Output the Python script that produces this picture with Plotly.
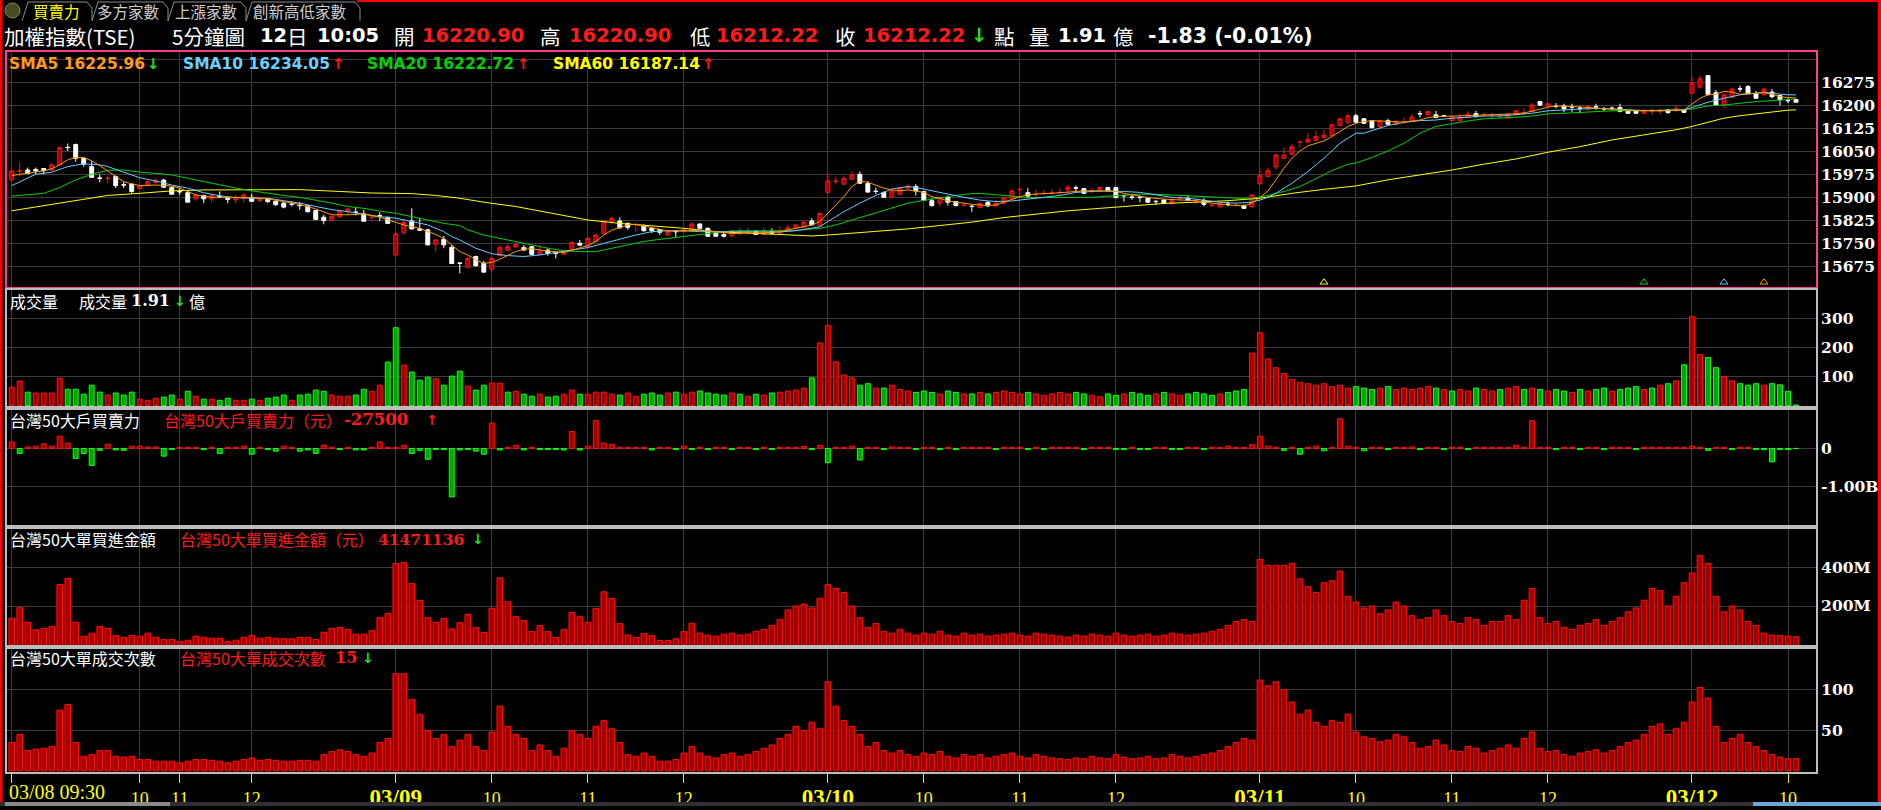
import plotly.graph_objects as go

W, H = 1881, 810
def X(px): return px / W
def Y(py): return 1 - py / H

N = 224
idx = list(range(N))

# ---------------- candles (5-min bars, 03/08 09:30 -> 03/12 10:05) ----------------
opens = [15959,15987,15991,15993,15996,15991,16008,16065,16074,16029,
 16002,15965,15963,15970,15943,15945,15931,15942,15950,15958,
 15934,15921,15917,15897,15908,15897,15905,15901,15894,15899,
 15902,15891,15898,15889,15883,15880,15876,15874,15859,15837,
 15827,15839,15855,15854,15848,15836,15842,15837,15714,15787,
 15825,15799,15796,15749,15765,15739,15688,15674,15709,15687,
 15668,15712,15729,15740,15738,15741,15716,15730,15723,15716,
 15729,15752,15741,15758,15785,15823,15825,15817,15813,15808,
 15801,15797,15779,15791,15790,15793,15815,15801,15788,15781,
 15776,15783,15789,15790,15781,15790,15785,15793,15801,15804,
 15825,15809,15918,15954,15945,15961,15977,15947,15922,15918,
 15902,15912,15932,15937,15921,15891,15883,15902,15888,15875,
 15873,15869,15886,15874,15883,15899,15927,15917,15911,15914,
 15916,15917,15926,15933,15930,15922,15924,15934,15934,15908,
 15903,15903,15899,15889,15893,15883,15898,15899,15890,15892,
 15875,15871,15880,15875,15875,15871,15946,15970,16001,16029,
 16042,16081,16082,16088,16097,16103,16136,16147,16168,16158,
 16152,16133,16152,16140,16148,16149,16175,16171,16171,16168,
 16152,16152,16163,16175,16170,16170,16168,16160,16171,16176,
 16182,16214,16200,16199,16200,16197,16193,16190,16197,16191,
 16193,16195,16184,16184,16176,16181,16183,16187,16185,16186,
 16241,16261,16299,16243,16203,16228,16256,16263,16240,16236,
 16245,16234,16218,16220.90]
highs = [15990,16018,15999,15999,15997,16013,16066,16077,16077,16032,
 16021,15977,15973,15972,15953,15945,15942,15958,15964,15962,
 15937,15932,15921,15915,15910,15915,15921,15903,15910,15915,
 15913,15902,15899,15891,15886,15888,15886,15875,15861,15845,
 15842,15861,15866,15868,15861,15845,15853,15839,15790,15828,
 15866,15834,15799,15766,15776,15747,15688,15709,15712,15695,
 15706,15747,15749,15755,15747,15743,15747,15734,15725,15727,
 15758,15763,15771,15783,15828,15839,15836,15820,15814,15814,
 15804,15799,15792,15791,15799,15820,15817,15804,15790,15790,
 15796,15803,15803,15796,15803,15801,15806,15812,15814,15825,
 15834,15852,15980,15970,15973,15986,15986,15955,15934,15921,
 15929,15937,15945,15945,15923,15899,15904,15908,15890,15888,
 15877,15886,15888,15893,15903,15928,15932,15932,15926,15926,
 15928,15932,15942,15940,15932,15932,15936,15937,15937,15908,
 15910,15907,15901,15893,15896,15899,15908,15908,15899,15899,
 15883,15885,15888,15883,15879,15912,15999,15999,16045,16064,
 16077,16088,16111,16120,16122,16143,16162,16174,16174,16160,
 16154,16153,16158,16154,16162,16174,16184,16184,16184,16171,
 16168,16174,16182,16184,16178,16178,16176,16176,16186,16192,
 16209,16217,16209,16209,16207,16207,16200,16203,16207,16197,
 16198,16207,16186,16186,16190,16192,16192,16190,16203,16190,
 16295,16299,16299,16252,16241,16258,16266,16268,16249,16258,
 16255,16236,16225,16220.90]
lows = [15957,15970,15977,15977,15977,15988,16006,16053,16018,16002,
 15966,15951,15948,15932,15932,15913,15928,15939,15945,15932,
 15912,15910,15886,15891,15883,15886,15899,15883,15883,15886,
 15889,15886,15883,15873,15866,15872,15861,15853,15828,15814,
 15825,15834,15845,15843,15823,15825,15825,15817,15712,15779,
 15797,15793,15745,15725,15736,15686,15654,15671,15676,15658,
 15658,15710,15727,15736,15727,15714,15714,15712,15703,15714,
 15727,15745,15738,15755,15781,15814,15799,15796,15790,15790,
 15785,15779,15777,15772,15788,15790,15799,15774,15773,15771,
 15772,15780,15781,15779,15779,15781,15784,15790,15799,15801,
 15810,15806,15916,15944,15942,15959,15946,15917,15912,15901,
 15901,15910,15929,15908,15891,15872,15872,15875,15872,15872,
 15855,15866,15870,15872,15879,15897,15899,15899,15901,15910,
 15910,15910,15915,15921,15912,15915,15921,15921,15899,15888,
 15894,15886,15883,15877,15879,15877,15888,15890,15879,15872,
 15871,15868,15872,15872,15864,15868,15945,15967,15991,16027,
 16038,16064,16078,16086,16095,16100,16133,16140,16145,16140,
 16127,16127,16138,16136,16141,16147,16162,16168,16160,16164,
 16149,16149,16160,16163,16163,16160,16160,16158,16168,16171,
 16179,16200,16196,16192,16179,16179,16176,16184,16187,16184,
 16184,16179,16174,16173,16174,16171,16173,16174,16179,16177,
 16239,16260,16233,16201,16192,16225,16245,16238,16223,16234,
 16225,16201,16209,16212.22]
closes = [15988,15988,15980,15988,15989,16008,16064,16064,16029,16010,
 15967,15964,15964,15940,15942,15921,15940,15953,15957,15935,
 15912,15920,15886,15908,15897,15907,15904,15895,15902,15910,
 15889,15899,15888,15878,15870,15879,15875,15855,15830,15826,
 15840,15857,15864,15853,15824,15837,15841,15817,15783,15820,
 15799,15795,15747,15763,15747,15686,15687,15703,15679,15658,
 15703,15739,15741,15749,15730,15716,15727,15719,15719,15725,
 15755,15746,15768,15779,15825,15834,15803,15804,15814,15793,
 15793,15788,15790,15790,15797,15815,15801,15775,15775,15775,
 15793,15790,15790,15781,15792,15785,15792,15803,15812,15821,
 15812,15850,15955,15955,15964,15975,15948,15919,15921,15902,
 15923,15932,15938,15923,15892,15875,15902,15886,15875,15876,
 15872,15882,15874,15883,15901,15923,15928,15906,15912,15915,
 15917,15918,15935,15932,15915,15923,15934,15923,15901,15907,
 15902,15902,15886,15888,15883,15891,15899,15892,15891,15879,
 15876,15883,15879,15876,15866,15910,15973,15989,16040,16040,
 16067,16082,16091,16100,16105,16138,16158,16168,16147,16143,
 16129,16151,16140,16149,16149,16164,16174,16182,16162,16167,
 16164,16164,16173,16165,16171,16171,16169,16174,16184,16177,
 16203,16203,16207,16198,16190,16196,16192,16198,16196,16190,
 16192,16182,16176,16176,16184,16182,16184,16178,16192,16179,
 16274,16288,16238,16203,16236,16255,16255,16240,16225,16255,
 16230,16220,16217,16212.22]

# ---------------- moving averages (at these bars) ----------------
sma5_idx = [0,2,4,5,6,7,8,9,10,11,12,13,14,15,16,18,20,21,22,23,25,27,30,32,34,36,38,40,42,44,46,47,48,49,50,51,52,53,54,55,
 56,57,58,59,60,61,62,63,64,65,67,69,70,71,72,73,74,75,76,77,78,80,82,84,86,88,90,92,94,96,98,100,101,102,103,104,105,106,107,108,
 109,110,111,112,113,114,115,116,117,118,119,120,121,122,123,124,125,126,127,128,130,132,134,136,138,139,140,142,144,146,148,150,152,154,155,
 156,157,158,159,160,161,162,163,164,165,166,167,168,169,170,172,174,176,177,178,180,182,184,186,188,189,190,191,192,193,195,197,199,201,203,
 205,207,209,210,211,212,213,214,215,216,217,218,219,220,221,222,223]
sma5_val = [15973,15980,15988,15995,16008,16024,16032,16032,16021,16005,15988,15970,15953,15946,15940,15942,15939,15932,15921,15910,15902,15901,15901,15897,15888,15879,15864,15845,15845,15848,15837,15828,15821,15812,15806,15801,15790,15781,15768,15747,
 15725,15714,15698,15687,15690,15700,15712,15725,15733,15734,15727,15722,15729,15736,15745,15758,15779,15795,15804,15812,15814,15804,15792,15792,15795,15790,15784,15786,15786,15790,15801,15812,15823,15850,15877,15904,15937,15955,15951,15942,
 15932,15926,15923,15926,15923,15918,15904,15899,15890,15886,15883,15879,15877,15875,15877,15886,15897,15904,15910,15913,15915,15918,15923,15923,15921,15915,15910,15901,15896,15893,15891,15883,15877,15874,15883,
 15901,15923,15959,15997,16029,16053,16070,16078,16086,16100,16116,16133,16143,16149,16152,16149,16147,16154,16162,16165,16167,16167,16171,16173,16174,16177,16182,16189,16196,16200,16198,16195,16192,16187,16184,
 16184,16184,16187,16205,16225,16236,16238,16247,16245,16238,16239,16241,16243,16238,16230,16227,16226]
sma10_idx = [0,2,3,5,7,9,11,12,14,16,18,20,22,24,26,28,30,32,34,36,38,40,42,44,46,48,50,52,54,55,56,57,58,60,62,64,66,68,70,72,
 74,76,78,80,82,84,86,88,90,92,94,96,98,100,101,102,104,106,108,110,112,113,115,117,119,121,123,125,127,129,131,133,135,137,139,141,143,145,147,149,
 151,153,155,156,157,158,159,160,162,164,166,168,169,170,172,174,176,178,180,182,184,186,188,190,192,194,196,198,200,202,204,206,208,209,210,212,
 214,216,218,219,220,222,223]
sma10_val = [15940,15964,15977,15984,16002,16011,16008,16002,15984,15966,15955,15942,15932,15917,15907,15901,15899,15899,15891,15883,15872,15862,15855,15847,15839,15834,15823,15812,15790,15774,15763,15749,15736,15718,15712,15709,15714,15722,15730,15738,
 15752,15766,15779,15790,15793,15793,15790,15790,15790,15790,15790,15789,15793,15801,15806,15823,15855,15883,15908,15929,15937,15934,15923,15912,15902,15893,15888,15890,15897,15902,15908,15918,15921,15923,15921,15918,15910,15902,15899,15893,
 15886,15883,15886,15893,15902,15915,15932,15948,15986,16029,16078,16111,16111,16120,16136,16146,16152,16154,16160,16163,16167,16167,16171,16176,16184,16187,16190,16192,16190,16187,16185,16185,16185,16187,16195,16212,
 16225,16236,16241,16245,16241,16236,16236]
sma20_idx = [0,4,6,8,10,12,14,16,18,20,22,24,26,28,30,32,34,36,38,40,42,44,46,48,50,52,54,56,57,59,61,63,65,67,69,71,73,75,77,79,
 81,83,85,87,89,91,93,95,97,99,101,103,105,107,109,111,112,113,115,117,119,121,123,125,127,129,131,133,135,137,139,141,143,145,147,149,151,153,155,157,
 159,161,163,165,167,168,170,172,174,176,178,180,182,184,186,188,190,192,194,196,198,200,202,204,206,208,210,212,214,216,218,220,222,223]
sma20_val = [15906,15915,15934,15959,15977,15990,15991,15984,15980,15975,15964,15953,15942,15932,15923,15915,15908,15902,15893,15883,15872,15866,15857,15850,15839,15828,15817,15810,15796,15779,15768,15758,15747,15736,15728,15725,15725,15736,15747,15758,
 15765,15771,15779,15785,15790,15793,15793,15793,15793,15796,15801,15812,15828,15845,15859,15875,15883,15888,15896,15904,15912,15915,15910,15906,15901,15901,15901,15902,15902,15906,15910,15912,15912,15910,15908,15906,15902,15899,15899,15908,
 15921,15937,15964,15989,16010,16014,16032,16053,16078,16111,16133,16143,16151,16158,16160,16163,16167,16174,16176,16179,16182,16184,16184,16185,16185,16187,16190,16200,16203,16209,16214,16217,16222,16223]
sma60_idx = [0,4,8,12,16,20,24,28,36,41,45,50,53,56,59,63,67,72,76,80,84,88,92,96,100,102,105,109,112,116,
 120,124,128,132,136,140,144,148,152,156,160,164,168,172,176,180,184,188,192,196,200,204,208,210,212,214,216,218,220,222,223]
sma60_val = [15858,15875,15891,15908,15915,15923,15926,15927,15927,15921,15916,15914,15908,15899,15886,15872,15852,15828,15817,15809,15801,15790,15785,15782,15776,15779,15785,15793,15799,15810,
 15821,15836,15847,15858,15866,15875,15882,15886,15891,15899,15915,15928,15939,15959,15975,15991,16010,16027,16049,16067,16089,16105,16122,16133,16147,16160,16168,16174,16182,16186,16187.14]

# signal markers at the bottom of the price panel
signal_idx = [164, 204, 214, 219]
signal_col = ['#ffff00', '#00d000', '#66ccff', '#ff9900']

# ---------------- volume (億) ----------------
volume = [63,84,46,43,43,43,94,56,56,39, 70,46,36,43,36,46,22,18,25,29, 36,22,49,32,22,22,18,25,18,18,
 22,18,25,29,36,18,36,39,53,49, 36,32,32,36,56,49,70,149,267,139, 115,87,97,92,70,101,118,67,53,70,
 77,77,46,49,39,32,39,29,32,39, 53,39,39,46,
 46,39,36,43,32,39,43,36,43,46, 39,46,50,43,39,36,43,39,32,39, 36,43,46,50,53,60,95,215,
 275,150,105,95,70,75,60,60,70,55, 50,45,50,45,40,50,45,40,40,45, 40,45,50,45,40,45,40,35,40,45,
 40,45,40,35,30,40,35,40,45,40, 35,40,45,40,35,40,45,40,35,40, 45,50,55,180,
 250,160,130,110,90,80,75,70,75,65, 70,60,65,60,55,60,65,55,60,55, 60,65,60,55,50,55,50,60,55,50,
 55,60,65,55,60,55,50,55,50,45, 55,50,55,60,50,55,60,65,55,60, 70,75,85,140,
 305,175,165,130,100,85,75,70,75,70, 75,71,49,1.91]
vol_dir_read = "rrgrrrrggg" "ggrgggrrrg" "grgrgrggrr" "grgggrgggg" "rrrggrrggr" "gggrgggrgg" "rrgrggrggr" "rgrr"

# ---------------- 台灣50大戶買賣力 (百萬元) ----------------
power = [170,-130,40,60,120,60,320,140,-260,-130, -440,-50,110,-40,-50,60,60,40,40,-200,
 -30,30,30,30,-30,30,-130,30,30,60, -150,30,-30,-70,60,30,-70,-40,-130,90,
 30,-30,30,-40,-40,30,170,30,30,80, -130,-50,-280,-30,-30,-1260,-40,-30,-70,-150,
 660,-40,30,80,-40,30,-30,-30,-30,-40, 440,-40,60,730,140,110,30,30,30,30,
 -40,30,30,-30,60,-30,
 30,-30,30,30,-30,30,30,-30,30,-30,30,30,30,50,-30,80,
 -370,30,30,60,-300,30,30,-30,40,30, 30,-30,30,30,-30,30,-30,30,30,30,
 30,-30,30,30,30,-30,30,-30,30,30, 30,30,-30,30,30,30,-30,-30,30,-30,
 -30,30,30,-30,-30,30,30,-30,30,30, 60,30,30,100,
 320,60,30,-50,30,-150,30,60,-60,30, 770,60,30,-60,30,30,-30,30,30,40,
 -30,30,30,-30,30,30,-30,30,30,30, 30,30,80,30,720,30,30,-30,30,30,
 -30,30,30,-30,30,30,30,-30,30,30, 30,30,30,30,
 60,30,-50,30,30,-30,30,30,-30,-30, -350,-30,-30,-0.0275]

# ---------------- 台灣50大單買進金額 (百萬元) ----------------
big_amount = [137,191,116,77,85,94,311,342,116,44, 60,94,85,48,39,48,44,60,39,27,
 27,17,24,44,39,34,34,17,24,39, 48,34,39,34,31,31,38,39,27,65,
 85,89,80,55,55,73,140,162,419,424, 316,229,140,116,137,82,114,157,89,63,
 188,345,222,145,125,68,99,68,38,80, 166,145,116,188,273,239,109,51,38,58,
 48,22,22,31,68,111,
 60,50,45,55,60,50,55,70,80,100,130,180,200,210,190,240,
 310,290,270,200,140,90,110,70,60,80, 60,50,60,55,70,50,45,60,50,55,
 45,50,55,60,50,45,60,55,50,45, 40,50,45,55,50,45,60,50,45,50,
 55,45,50,60,55,50,55,60,70,80, 100,120,130,120,
 440,410,410,410,420,340,300,270,320,330, 380,250,220,190,200,160,180,220,200,150,
 130,140,180,150,120,110,140,130,100,120, 120,150,130,230,290,140,110,120,90,80,
 100,110,130,100,120,140,170,190,230,290, 280,200,250,320,
 370,460,420,250,170,200,180,120,100,60, 50,48,45,41.471136]

# ---------------- 台灣50大單成交次數 ----------------
big_count = [35,45,25,27,28,30,75,82,35,18, 20,25,25,18,17,18,14,14,12,12,
 12,10,12,14,14,13,12,10,12,14, 16,13,14,13,12,12,13,13,12,20,
 24,26,24,20,18,22,35,40,
 120,120,88,70,50,40,45,30,38,45, 30,25,48,80,55,45,40,25,32,25,
 18,28,50,45,40,55,62,52,35,20, 18,22,18,12,12,14,22,30,
 22,18,16,20,22,18,20,24,28,32,40,45,55,50,60,52,
 110,80,62,55,45,30,35,25,22,25, 20,18,22,20,24,18,16,20,18,20,
 16,18,20,22,18,16,20,18,16,15, 14,16,15,18,16,15,20,17,15,16,
 18,15,16,20,18,16,18,20,22,25, 30,35,40,38,
 112,105,110,100,85,70,75,60,55,62, 60,70,48,42,40,36,38,45,42,35,
 28,30,38,32,25,24,30,28,22,25, 28,32,28,40,48,28,24,25,20,18,
 22,24,26,22,25,30,35,38,45,55, 58,45,52,60,
 85,103,90,55,35,40,45,35,30,25, 20,17,15,15]

# ---------------- x tick labels ----------------
tick_idx = [0, 16, 21, 30, 48, 60, 72, 84, 102, 114, 126, 138, 156, 168, 180, 192, 210, 222]
tick_lbl = ['03/08 09:30', '10', '11', '12', '03/09', '10', '11', '12', '03/10', '10', '11', '12',
            '03/11', '10', '11', '12', '03/12', '10']

for arr in (opens, highs, lows, closes, volume, power, big_amount, big_count):
    assert len(arr) == N, len(arr)

# ---------------- styling ----------------
RED_L, RED_F = '#ff1010', '#a80000'
GRN_L, GRN_F = '#10ff10', '#00a800'
GRID = '#3c3c3c'
PINK = '#ff3f8c'
GRAYB = '#bdbdbd'
YEL = '#ffff00'
CJK = 'Noto Sans CJK TC'
SANS = 'DejaVu Sans'
SERIF = 'DejaVu Serif'

fig = go.Figure()

for xs, ys, col in [(sma60_idx, sma60_val, '#ffff00'), (sma20_idx, sma20_val, '#00d000'),
                    (sma10_idx, sma10_val, '#66ccff'), (sma5_idx, sma5_val, '#ff9900')]:
    fig.add_trace(go.Scatter(x=xs, y=ys, mode='lines', line=dict(color=col, width=1),
                             xaxis='x', yaxis='y', hoverinfo='skip', showlegend=False))

fig.add_trace(go.Candlestick(x=idx, open=opens, high=highs, low=lows, close=closes,
                             increasing=dict(line=dict(color=RED_L, width=1), fillcolor=RED_F),
                             decreasing=dict(line=dict(color='#ffffff', width=1), fillcolor='#ffffff'),
                             whiskerwidth=0, xaxis='x', yaxis='y', showlegend=False, hoverinfo='skip'))

MAIN_RANGE = [15611, 16376.5]
fig.add_trace(go.Scatter(x=signal_idx, y=[MAIN_RANGE[0] + 14] * len(signal_idx), mode='markers',
                         marker=dict(symbol='triangle-up-open', size=7, color=signal_col,
                                     line=dict(color=signal_col, width=1)),
                         xaxis='x', yaxis='y', hoverinfo='skip', showlegend=False))

# volume direction: as read for the first bars, then close vs previous close
vol_up = [ch == 'r' for ch in vol_dir_read]
for i in range(len(vol_up), N):
    if closes[i] != closes[i - 1]:
        vol_up.append(closes[i] > closes[i - 1])
    else:
        vol_up.append(closes[i] >= opens[i])
fig.add_trace(go.Bar(x=idx, y=volume, width=0.62,
                     marker=dict(color=[RED_F if u else GRN_F for u in vol_up],
                                 line=dict(color=[RED_L if u else GRN_L for u in vol_up], width=1)),
                     xaxis='x2', yaxis='y2', hoverinfo='skip', showlegend=False))

fig.add_trace(go.Bar(x=idx, y=power, width=0.62,
                     marker=dict(color=[RED_F if v >= 0 else GRN_F for v in power],
                                 line=dict(color=[RED_L if v >= 0 else GRN_L for v in power], width=1)),
                     xaxis='x3', yaxis='y3', hoverinfo='skip', showlegend=False))

fig.add_trace(go.Bar(x=idx, y=big_amount, width=0.7,
                     marker=dict(color=RED_F, line=dict(color=RED_L, width=1)),
                     xaxis='x4', yaxis='y4', hoverinfo='skip', showlegend=False))

fig.add_trace(go.Bar(x=idx, y=big_count, width=0.7,
                     marker=dict(color=RED_F, line=dict(color=RED_L, width=1)),
                     xaxis='x5', yaxis='y5', hoverinfo='skip', showlegend=False))

# ---------------- axes ----------------
panels = [(52, 288), (291, 408), (412, 528), (532, 648), (652, 776)]
xdom = [X(6.5), X(1816)]

def xax(n, color, bottom=False):
    d = dict(domain=xdom, range=[-0.65, 225.5], anchor='y' if n == 1 else f'y{n}',
             tickmode='array', tickvals=tick_idx, showgrid=True, gridcolor=GRID, gridwidth=1,
             zeroline=False, showline=True, mirror=True, linecolor=color, linewidth=2,
             fixedrange=True, showticklabels=False, ticks='')
    if bottom:
        ttext = []
        for t in tick_lbl:
            if t.startswith('03/08'):
                ttext.append('')
            elif '/' in t:
                ttext.append('<b><span style="font-size:23px">' + t + '</span></b>')
            else:
                ttext.append(t)
        d.update(showticklabels=True, ticktext=ttext, ticks='outside', ticklen=9,
                 tickcolor='#e8e800', tickwidth=1,
                 tickfont=dict(family='Liberation Serif', size=18, color=YEL))
    return d

def yax(n, top_bottom, rng, tv, tt, color):
    top, bot = top_bottom
    return dict(domain=[Y(bot), Y(top)], range=rng, side='right', anchor='x' if n == 1 else f'x{n}',
                tickmode='array', tickvals=tv, ticktext=tt, showgrid=True, gridcolor=GRID, gridwidth=1,
                zeroline=False, showline=True, mirror=True, linecolor=color, linewidth=2,
                fixedrange=True, ticks='',
                tickfont=dict(family=SERIF, size=15.5, color='#ffffff', weight='bold'))

main_ticks = [15675 + 75 * k for k in range(10)]
main_text = [str(v) for v in main_ticks[:-1]] + ['']

layout = dict(width=W, height=H, margin=dict(l=0, r=0, t=0, b=0),
              paper_bgcolor='#000000', plot_bgcolor='#000000', showlegend=False,
              xaxis=dict(xax(1, PINK), rangeslider=dict(visible=False)),
              xaxis2=xax(2, GRAYB), xaxis3=xax(3, GRAYB), xaxis4=xax(4, GRAYB), xaxis5=xax(5, GRAYB, True),
              yaxis=yax(1, panels[0], MAIN_RANGE, main_ticks, main_text, PINK),
              yaxis2=yax(2, panels[1], [-1.5, 398], [100, 200, 300], ['100', '200', '300'], GRAYB),
              yaxis3=yax(3, panels[2], [-2000, 1000], [0, -1000], ['0', '-1.00B'], GRAYB),
              yaxis4=yax(4, panels[3], [0, 595], [200, 400], ['200M', '400M'], GRAYB),
              yaxis5=yax(5, panels[4], [-1.6, 150.7], [50, 100], ['50', '100'], GRAYB))

# ---------------- text ----------------
def ann(text, px, py, color, size, family):
    return dict(text=text, x=X(px), y=Y(py), xref='paper', yref='paper', xanchor='left',
                yanchor='middle', showarrow=False, font=dict(color=color, size=size, family=family))

RED_T = '#ff1a1a'
GRN_T = '#1ee01e'
T = 20.5   # title CJK size
TN = 19.5  # title number size
anns = [
    ann('買賣力', 31, 11, '#ffff00', 15.5, CJK),
    ann('多方家數', 95, 11, '#cfcfcf', 15.5, CJK),
    ann('上漲家數', 173, 11, '#cfcfcf', 15.5, CJK),
    ann('創新高低家數', 251, 11, '#cfcfcf', 15.5, CJK),

    ann('加權指數(TSE)', 2, 36, 'white', T, CJK),
    ann('5分鐘圖', 170, 36, 'white', T, CJK),
    ann('<b>12</b>', 258, 36, 'white', TN, SANS),
    ann('日', 285, 36, 'white', T, CJK),
    ann('<b>10:05</b>', 315, 36, 'white', TN, SANS),
    ann('開', 392, 36, 'white', T, CJK),
    ann('<b>16220.90</b>', 420, 36, RED_T, TN, SANS),
    ann('高', 538, 36, 'white', T, CJK),
    ann('<b>16220.90</b>', 567, 36, RED_T, TN, SANS),
    ann('低', 688, 36, 'white', T, CJK),
    ann('<b>16212.22</b>', 714, 36, RED_T, TN, SANS),
    ann('收', 833, 36, 'white', T, CJK),
    ann('<b>16212.22</b>', 861, 36, RED_T, TN, SANS),
    ann('<b>↓</b>', 969, 36, GRN_T, TN, SANS),
    ann('點', 992, 36, 'white', T, CJK),
    ann('量', 1027, 36, 'white', T, CJK),
    ann('<b>1.91</b>', 1056, 36, 'white', TN, SANS),
    ann('億', 1111, 36, 'white', T, CJK),
    ann('<b>-1.83 (-0.01%)</b>', 1146, 36, 'white', 20.5, SANS),

    ann('<b>SMA5 16225.96</b>', 7, 64, '#ff9a1a', 15.5, SANS),
    ann('<b>↓</b>', 145, 64, GRN_T, 15, SANS),
    ann('<b>SMA10 16234.05</b>', 181, 64, '#6ccfff', 15.5, SANS),
    ann('<b>↑</b>', 330, 64, RED_T, 15, SANS),
    ann('<b>SMA20 16222.72</b>', 365, 64, '#00d000', 15.5, SANS),
    ann('<b>↑</b>', 515, 64, RED_T, 15, SANS),
    ann('<b>SMA60 16187.14</b>', 551, 64, '#ffff00', 15.5, SANS),
    ann('<b>↑</b>', 700, 64, RED_T, 15, SANS),

    ann('成交量', 8, 302, 'white', 16, CJK),
    ann('成交量', 77, 302, 'white', 16, CJK),
    ann('<b>1.91</b>', 129, 302, 'white', 16, SERIF),
    ann('<b>↓</b>', 172, 302, GRN_T, 14, SANS),
    ann('億', 187, 302, 'white', 16, CJK),

    ann('台灣50大戶買賣力', 8, 422, 'white', 16, CJK),
    ann('台灣50大戶買賣力（元）', 162, 422, RED_T, 16, CJK),
    ann('<b>-27500</b>', 342, 422, RED_T, 16.5, SERIF),
    ann('<b>↑</b>', 424, 422, RED_T, 14, SANS),

    ann('台灣50大單買進金額', 8, 542, 'white', 16, CJK),
    ann('台灣50大單買進金額（元）', 178, 542, RED_T, 16, CJK),
    ann('<b>41471136</b>', 376, 542, RED_T, 15.5, SERIF),
    ann('<b>↓</b>', 470, 542, GRN_T, 14, SANS),

    ann('台灣50大單成交次數', 8, 661, 'white', 16, CJK),
    ann('台灣50大單成交次數', 178, 661, RED_T, 16, CJK),
    ann('<b>15</b>', 333, 661, RED_T, 16, SERIF),
    ann('<b>↓</b>', 360, 661, GRN_T, 14, SANS),

    ann('03/08 09:30', 7, 796, YEL, 20, 'Liberation Serif'),
]
layout['annotations'] = anns

# ---------------- frame decorations ----------------
def rect(x0, y0, x1, y1, fill, line=None):
    return dict(type='rect', xref='paper', yref='paper', x0=X(x0), x1=X(x1), y0=Y(y1), y1=Y(y0),
                fillcolor=fill, line=dict(width=0) if line is None else dict(color=line, width=1),
                layer='above')

def path(pts, color):
    d = 'M ' + ' L '.join(f'{X(a):.5f},{Y(b):.5f}' for a, b in pts)
    return dict(type='path', xref='paper', yref='paper', path=d, line=dict(color=color, width=1),
                layer='above')

shapes = [
    rect(0, 0, 2.5, 810, '#ff0000'),
    rect(1878, 0, 1881, 810, '#ff0000'),
    rect(357, 0, 1881, 2, '#ff0000'),
    rect(0, 806, 1881, 810, '#303030'),
    rect(5, 806, 170, 810, '#8a8a8a'),
    rect(1753, 806, 1881, 810, '#6aa6d8'),
    dict(type='circle', xref='paper', yref='paper', x0=X(5), x1=X(20), y0=Y(18), y1=Y(3),
         fillcolor='#4a4a22', line=dict(color='#8a8a44', width=1), layer='above'),
]
for x0, x1 in [(22, 92), (92, 168), (168, 246), (246, 360)]:
    shapes.append(path([(x0, 21), (x0 + 6, 2), (x1 - 5, 2), (x1, 8), (x1, 21)], '#8c8c8c'))
layout['shapes'] = shapes

fig.update_layout(**layout)
fig.write_html('out.html', config={'displayModeBar': False},
               post_script="document.body.style.margin='0';document.body.style.overflow='hidden';")
